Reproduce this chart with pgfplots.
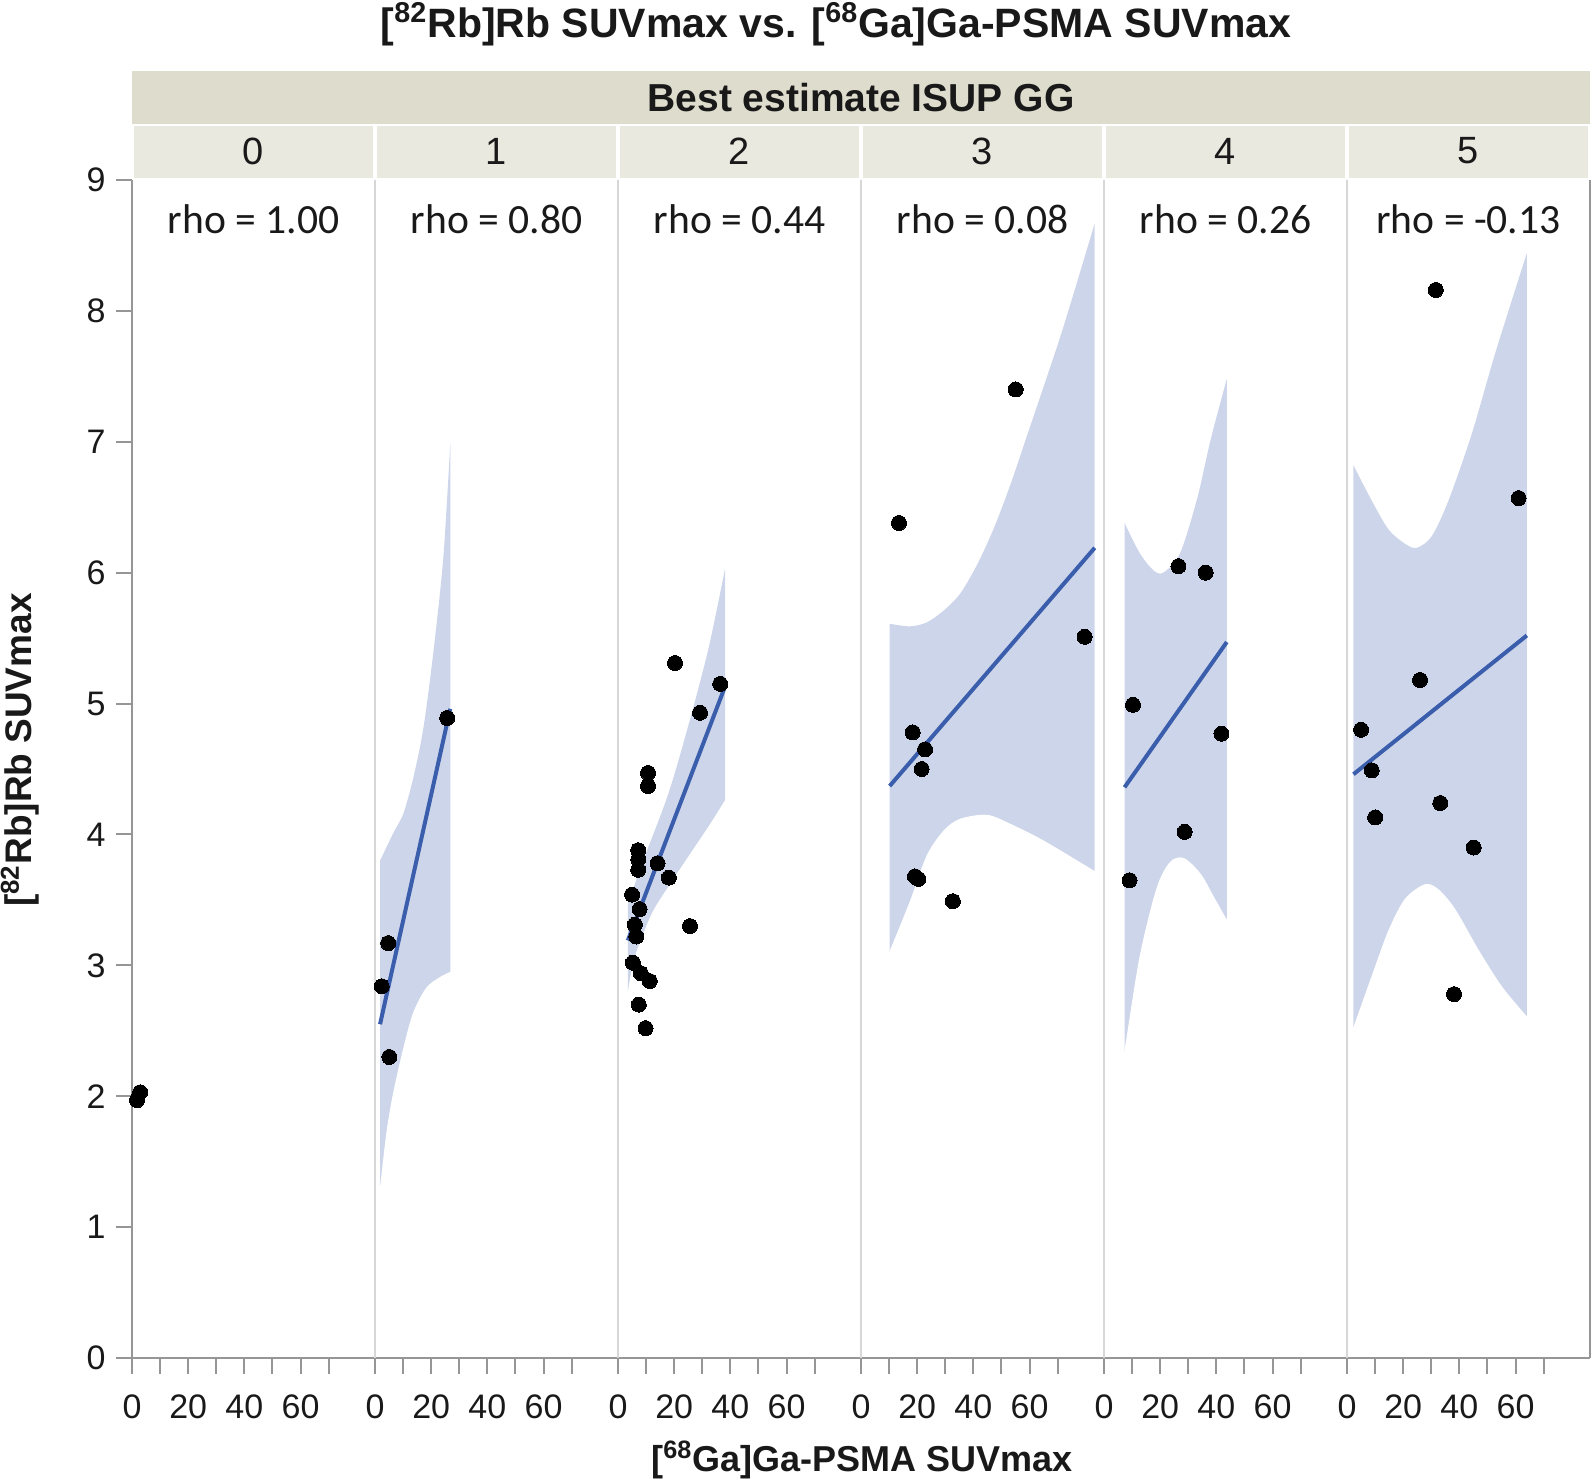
\documentclass[border=0pt]{standalone}
\usepackage{fontspec}
\setmainfont{Liberation Sans}
\newfontfamily\carlito{Carlito}
\usepackage{pgfplots}
\pgfplotsset{compat=1.18}
\definecolor{bandc}{RGB}{205,213,234}
\definecolor{linec}{RGB}{58,94,172}
\definecolor{axgray}{RGB}{150,150,150}
\definecolor{divgray}{RGB}{215,215,215}
\definecolor{hdrtop}{RGB}{222,220,205}
\definecolor{hdrrow}{RGB}{234,233,223}
\definecolor{txt}{RGB}{25,25,25}
\newcommand{\tickfont}{\fontsize{17}{17}\selectfont}
\newcommand{\hdrfont}{\fontsize{19}{19}\selectfont}
\newcommand{\rhofont}{\carlito\fontsize{20.8}{20.8}\selectfont}
\pgfplotsset{
 panel/.style={
  width=121.5pt,height=589pt,scale only axis,
  xmin=0,xmax=86.5,ymin=0,ymax=9,
  axis x line*=bottom, axis y line*=left,
  x axis line style={-,draw=axgray,line width=1pt},
  y axis line style={-,draw=divgray,line width=1pt},
  xtick={0,10,...,70}, xticklabels={0,,20,,40,,60,},
  ytick=\empty,
  tick align=outside, major tick length=8pt,
  tick style={axgray,line width=1pt},
  xticklabel style={font=\tickfont,text=txt,anchor=north,inner sep=0pt,yshift=-10pt},
  anchor=south west, clip=false, axis on top,
 },
 bandup/.style={fill=bandc,draw=none,smooth,tension=0.5},
 bandlow/.style={fill=white,draw=none,smooth,tension=0.5},
 fitline/.style={linec,line width=2pt},
 pts/.style={only marks,mark=*,mark size=3.75pt,mark options={fill=black,draw=black,line width=0pt}},
}
\begin{document}
\begin{tikzpicture}
\useasboundingbox (0,0) rectangle (796.5pt,740pt);
% header
\fill[hdrtop] (66pt,678pt) rectangle (795pt,704.5pt);
\foreach \i in {0,...,5}{
  \fill[hdrrow] ({66pt+121.5pt*\i+1pt},651pt) rectangle ({66pt+121.5pt*(\i+1)-1pt},677pt);
  \node[font=\hdrfont,text=txt] at ({66pt+121.5pt*(\i+0.5)},664.5pt) {\i};
}
\node[font=\fontsize{19.5}{19.5}\selectfont\bfseries,text=txt] at (430.5pt,691.25pt) {Best estimate ISUP GG};
\node[font=\fontsize{20.5}{20.5}\selectfont\bfseries,text=txt] at (418pt,728pt) {[\textsuperscript{82}Rb]Rb SUVmax vs. [\textsuperscript{68}Ga]Ga-PSMA SUVmax};
\node[font=\fontsize{18}{18}\selectfont\bfseries,text=txt] at (431pt,10pt) {[\textsuperscript{68}Ga]Ga-PSMA SUVmax};
\node[font=\fontsize{18.5}{18.5}\selectfont\bfseries,text=txt,rotate=90] at (10pt,365pt) {[\textsuperscript{82}Rb]Rb SUVmax};

% panel 0
\begin{axis}[panel, at={(66pt,61pt)},
  y axis line style={-,draw=axgray,line width=1pt},
  ytick={0,...,9}, yticklabels={0,1,2,3,4,5,6,7,8,9},
  yticklabel style={font=\tickfont,text=txt,anchor=east,inner sep=0pt,xshift=-5pt}]
\addplot[fitline] coordinates {(1.8,1.97) (2.9,2.03)};
\addplot[pts] coordinates {(1.8,1.97) (2.9,2.03)};
\node[font=\rhofont,text=txt] at (axis cs:43.25,8.7) {rho = 1.00};
\end{axis}

% panel 1
\begin{axis}[panel, at={(187.5pt,61pt)}]
\addplot[bandup] coordinates {(1.8,3.80) (6.5,4.01) (10.1,4.16) (13.6,4.43) (17.2,4.81) (20.7,5.38) (24.3,6.11) (26.8,6.99)} \closedcycle;
\addplot[bandlow] coordinates {(1.5,1.31) (1.8,1.31) (4.1,1.73) (6.5,2.03) (10.1,2.37) (13.6,2.64) (18.3,2.83) (23.1,2.91) (26.8,2.95) (27.1,2.95)} \closedcycle;
\addplot[fitline] coordinates {(1.8,2.55) (26.8,4.96)};
\addplot[pts] coordinates {(2.4,2.84) (4.7,3.17) (5.1,2.30) (25.7,4.89)};
\node[font=\rhofont,text=txt] at (axis cs:43.25,8.7) {rho = 0.80};
\end{axis}

% panel 2
\begin{axis}[panel, at={(309pt,61pt)}]
\addplot[bandup] coordinates {(3.5,3.47) (9.5,3.83) (17.9,4.31) (25.0,4.83) (32.2,5.42) (38.1,6.03)} \closedcycle;
\addplot[bandlow] coordinates {(3.2,2.80) (3.5,2.80) (5.9,3.06) (11.9,3.39) (17.9,3.60) (25.0,3.83) (32.2,4.06) (38.1,4.26) (38.4,4.26)} \closedcycle;
\addplot[fitline] coordinates {(3.5,3.19) (38.1,5.13)};
\addplot[pts] coordinates {(20.3,5.31) (36.4,5.15) (29.2,4.93) (10.7,4.47) (10.7,4.37) (7.2,3.88) (7.2,3.81) (7.2,3.73) (14.1,3.78) (18.1,3.67) (5.0,3.54) (7.7,3.43) (6.0,3.31) (6.5,3.22) (25.6,3.30) (5.3,3.02) (8.1,2.94) (11.3,2.88) (7.4,2.70) (9.8,2.52)};
\node[font=\rhofont,text=txt] at (axis cs:43.25,8.7) {rho = 0.44};
\end{axis}

% panel 3
\begin{axis}[panel, at={(430.5pt,61pt)}]
\addplot[bandup] coordinates {(10.2,5.61) (17.4,5.59) (23.4,5.62) (29.4,5.71) (35.3,5.84) (41.3,6.06) (47.3,6.34) (53.3,6.68) (59.3,7.06) (65.3,7.44) (71.2,7.82) (77.2,8.24) (83.2,8.67)} \closedcycle;
\addplot[bandlow] coordinates {(9.9,3.11) (10.2,3.11) (17.4,3.49) (23.4,3.84) (29.4,4.03) (35.3,4.12) (44.9,4.15) (53.3,4.08) (65.3,3.95) (83.2,3.72) (83.5,3.72)} \closedcycle;
\addplot[fitline] coordinates {(10.2,4.37) (83.2,6.19)};
\addplot[pts] coordinates {(13.5,6.38) (55.1,7.40) (18.4,4.78) (22.8,4.65) (21.6,4.50) (19.2,3.68) (20.4,3.66) (32.7,3.49) (79.6,5.51)};
\node[font=\rhofont,text=txt] at (axis cs:43.25,8.7) {rho = 0.08};
\end{axis}

% panel 4
\begin{axis}[panel, at={(552pt,61pt)}]
\addplot[bandup] coordinates {(7.3,6.38) (12.7,6.15) (17.5,6.02) (21.1,6.00) (27.1,6.15) (33.2,6.57) (38.0,7.02) (43.7,7.48)} \closedcycle;
\addplot[bandlow] coordinates {(7.0,2.35) (7.3,2.35) (12.7,3.07) (18.7,3.59) (23.5,3.79) (28.4,3.82) (34.4,3.70) (39.2,3.52) (43.7,3.35) (44.0,3.35)} \closedcycle;
\addplot[fitline] coordinates {(7.3,4.36) (43.7,5.47)};
\addplot[pts] coordinates {(26.5,6.05) (36.2,6.00) (10.3,4.99) (41.8,4.77) (28.7,4.02) (9.1,3.65)};
\node[font=\rhofont,text=txt] at (axis cs:43.25,8.7) {rho = 0.26};
\end{axis}

% panel 5
\begin{axis}[panel, at={(673.5pt,61pt)}]
\addplot[bandup] coordinates {(2.3,6.82) (8.8,6.55) (14.8,6.33) (20.7,6.22) (24.9,6.19) (30.2,6.28) (36.1,6.55) (44.4,7.06) (52.8,7.68) (64.0,8.44)} \closedcycle;
\addplot[bandlow] coordinates {(2.0,2.53) (2.3,2.53) (8.8,2.92) (14.8,3.27) (20.7,3.51) (27.8,3.62) (32.6,3.58) (38.5,3.43) (46.8,3.12) (55.1,2.84) (64.0,2.61) (64.3,2.61)} \closedcycle;
\addplot[fitline] coordinates {(2.3,4.46) (64.0,5.52)};
\addplot[pts] coordinates {(31.6,8.16) (61.1,6.57) (26.0,5.18) (5.0,4.80) (8.8,4.49) (10.0,4.13) (33.2,4.24) (45.1,3.90) (38.1,2.78)};
\node[font=\rhofont,text=txt] at (axis cs:43.25,8.7) {rho = -0.13};
\draw[axgray,line width=1pt] (rel axis cs:1,0) -- (rel axis cs:1,1);
\end{axis}
\end{tikzpicture}
\end{document}
